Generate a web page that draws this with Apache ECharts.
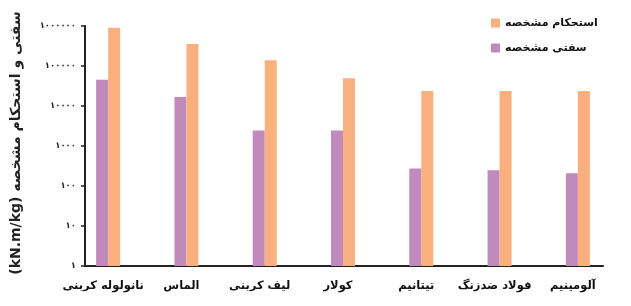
<!DOCTYPE html>
<html><head><meta charset="utf-8">
<script src="https://cdn.jsdelivr.net/npm/echarts@6/dist/echarts.min.js"></script>
<style>html,body{margin:0;padding:0;background:#fff}#c{width:631px;height:306px}</style>
</head><body><div id="c"></div>
<script>
const categories = ['نانولوله کربنی', 'الماس', 'لیف کربنی', 'کولار', 'تیتانیم', 'فولاد ضدزنگ', 'آلومینیم'];
const stiffness = [45000, 16800, 2430, 2430, 272, 247, 208];
const strength = [900000, 355000, 139000, 49500, 23700, 23700, 23700];
const yTickLabels = ['۱', '۱۰', '۱۰۰', '۱۰۰۰', '۱۰۰۰۰', '۱۰۰۰۰۰', '۱۰۰۰۰۰۰'];
const seriesNames = ['سفتی مشخصه', 'استحکام مشخصه'];
const yAxisTitle = '(kN.m/kg) سفتی و استحکام مشخصه';

const FONT = "'DejaVu Sans', sans-serif";
const purple = '#c08abd';
const orange = '#fab07e';
const chart = echarts.init(document.getElementById('c'), null, {renderer: 'canvas'});
chart.setOption({
  backgroundColor: '#fff',
  animation: false,
  textStyle: {fontFamily: FONT},
  legend: {
    orient: 'vertical', left: 486, top: 10, itemWidth: 9, itemHeight: 9, itemGap: 9,
    icon: 'rect', data: [seriesNames[1], seriesNames[0]],
    textStyle: {fontFamily: FONT, fontSize: 11, fontWeight: 'bold', color: '#111', lineHeight: 16}
  },
  grid: [
    {left: 69, right: 14, top: 26, bottom: 40, outerBoundsMode: 'none'},
    {left: 85, right: 28, top: 26, bottom: 40, outerBoundsMode: 'none'}
  ],
  xAxis: [
    {gridIndex: 0, type: 'category', data: categories,
     axisLine: {show: false}, axisTick: {show: false},
     axisLabel: {fontFamily: FONT, fontSize: 11.5, fontWeight: 'bold', color: '#111', margin: 14, interval: 0, padding: [0, 10, 0, 0]}},
    {gridIndex: 1, type: 'value', min: 0, max: 1, axisLabel: {show: false}, axisTick: {show: false},
     splitLine: {show: false}, axisLine: {show: true, onZero: false, lineStyle: {color: '#222', width: 2}}}
  ],
  yAxis: [
    {gridIndex: 0, type: 'log', logBase: 10, min: 1, max: 1000000, show: false, splitLine: {show: false}},
    {gridIndex: 1, type: 'log', logBase: 10, min: 1, max: 1000000,
     axisLine: {show: true, onZero: false, lineStyle: {color: '#222', width: 2}},
     axisTick: {show: true, length: 4, lineStyle: {color: '#222', width: 1.5}},
     splitLine: {show: false},
     axisLabel: {fontFamily: FONT, fontSize: 8.5, fontWeight: 'bold', color: '#222', margin: 9,
       formatter: v => yTickLabels[Math.round(Math.log10(v))]},
     name: yAxisTitle, nameLocation: 'middle', nameRotate: 90, nameGap: 62,
     nameTextStyle: {fontFamily: FONT, fontSize: 14, fontWeight: 'bold', color: '#222', padding: [0, 0, 0, 6]}}
  ],
  series: [
    {name: seriesNames[0], type: 'bar', xAxisIndex: 0, yAxisIndex: 0, data: stiffness,
     barWidth: 12, barGap: '0%', itemStyle: {color: purple}},
    {name: seriesNames[1], type: 'bar', xAxisIndex: 0, yAxisIndex: 0, data: strength,
     barWidth: 12, barGap: '0%', itemStyle: {color: orange}}
  ]
});
</script></body></html>
